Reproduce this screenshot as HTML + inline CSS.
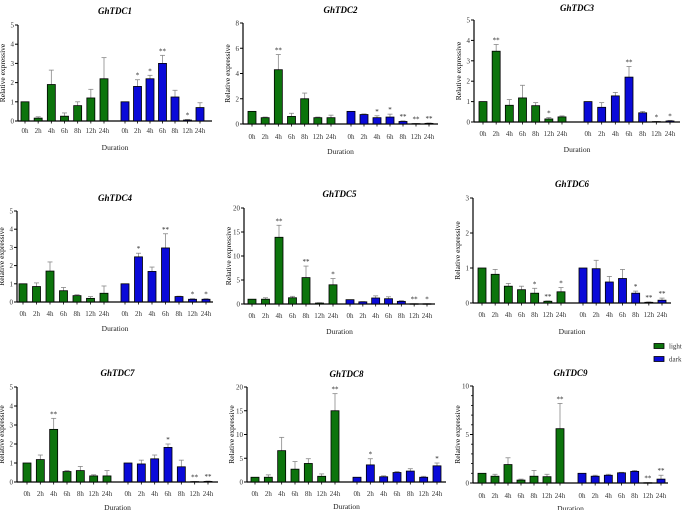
<!DOCTYPE html>
<html><head><meta charset="utf-8"><style>
body{margin:0;background:#fff;}
svg{display:block;font-family:"Liberation Serif",serif;}
</style></head><body>
<svg id="chart" width="685" height="510" viewBox="0 0 685 510"></svg>
<script>
const categories = ["0h","2h","4h","6h","8h","12h","24h"];
const genes = ["GhTDC1","GhTDC2","GhTDC3","GhTDC4","GhTDC5","GhTDC6","GhTDC7","GhTDC8","GhTDC9"];
const tdc1Light=[1,0.15,1.9,0.25,0.8,1.2,2.2], tdc1LightErr=[1,0.22,2.65,0.42,1.0,1.65,3.3];
const tdc1Dark=[1,1.8,2.2,3.0,1.25,0.05,0.7], tdc1DarkErr=[1,2.15,2.38,3.42,1.6,0.08,0.95];
const tdc2Light=[1,0.5,4.3,0.6,2.0,0.5,0.5], tdc2LightErr=[1,0.55,5.5,0.85,2.45,0.55,0.7];
const tdc2Dark=[1,0.75,0.5,0.55,0.2,0.03,0.05], tdc2DarkErr=[1,0.8,0.65,0.78,0.25,0.04,0.08];
const tdc3Light=[1,3.47,0.82,1.18,0.8,0.15,0.25], tdc3LightErr=[1,3.8,1.1,1.8,0.95,0.22,0.3];
const tdc3Dark=[1,0.72,1.28,2.2,0.45,0.02,0.05], tdc3DarkErr=[1,0.95,1.45,2.72,0.52,0.03,0.08];
const tdc4Light=[1,0.85,1.7,0.62,0.35,0.2,0.48], tdc4LightErr=[1,1.05,2.2,0.8,0.4,0.3,0.88];
const tdc4Dark=[1,2.48,1.68,2.97,0.3,0.15,0.15], tdc4DarkErr=[1,2.68,1.92,3.75,0.32,0.18,0.18];
const tdc5Light=[1,1,13.9,1.3,5.5,0.2,4], tdc5LightErr=[1,1.3,16.4,1.6,7.9,0.25,5.3];
const tdc5Dark=[0.9,0.45,1.25,1.1,0.55,0.05,0.05], tdc5DarkErr=[0.9,0.5,1.7,1.5,0.7,0.06,0.06];
const tdc6Light=[1,0.82,0.48,0.38,0.28,0.05,0.32], tdc6LightErr=[1,0.96,0.56,0.48,0.42,0.06,0.44];
const tdc6Dark=[1,0.98,0.6,0.7,0.28,0.02,0.08], tdc6DarkErr=[1,1.22,0.76,0.96,0.34,0.03,0.14];
const tdc7Light=[1,1.18,2.77,0.55,0.6,0.32,0.32], tdc7LightErr=[1,1.42,3.35,0.6,0.82,0.38,0.6];
const tdc7Dark=[1,0.95,1.22,1.82,0.8,0.02,0.03], tdc7DarkErr=[1,1.15,1.42,2.0,1.15,0.03,0.05];
const tdc8Light=[1,1,6.6,2.7,3.9,1.2,15], tdc8LightErr=[1,1.5,9.4,4.3,4.9,1.7,18.6];
const tdc8Dark=[1,3.6,1.1,2.0,2.3,1.0,3.4], tdc8DarkErr=[1,4.9,1.3,2.2,2.8,1.2,4.0];
const tdc9Light=[1,0.7,1.9,0.3,0.7,0.65,5.6], tdc9LightErr=[1,0.9,2.6,0.4,1.3,0.9,8.2];
const tdc9Dark=[1,0.7,0.8,1.05,1.2,0.03,0.4], tdc9DarkErr=[1,0.8,0.9,1.1,1.3,0.04,0.8];
const lightSig=[["","","","","","",""],["","","**","","","",""],["","**","","","","*",""],["","","","","","",""],["","","**","","**","","*"],["","","","","*","**","*"],["","","**","","","",""],["","","","","","","**"],["","","","","","","**"]];
const darkSig=[["","*","*","**","","*",""],["","","*","*","**","**","**"],["","","","**","","*","*"],["","*","","**","","*","*"],["","","","","","**","*"],["","","","","*","**","**"],["","","","*","","**","**"],["","*","","","","","*"],["","","","","","**","**"]];
const yMax=[5,8,5,5,20,3,5,20,10];
const yStep=[1,2,1,1,5,1,1,5,5];
const lightData=[tdc1Light,tdc2Light,tdc3Light,tdc4Light,tdc5Light,tdc6Light,tdc7Light,tdc8Light,tdc9Light];
const lightErr=[tdc1LightErr,tdc2LightErr,tdc3LightErr,tdc4LightErr,tdc5LightErr,tdc6LightErr,tdc7LightErr,tdc8LightErr,tdc9LightErr];
const darkData=[tdc1Dark,tdc2Dark,tdc3Dark,tdc4Dark,tdc5Dark,tdc6Dark,tdc7Dark,tdc8Dark,tdc9Dark];
const darkErr=[tdc1DarkErr,tdc2DarkErr,tdc3DarkErr,tdc4DarkErr,tdc5DarkErr,tdc6DarkErr,tdc7DarkErr,tdc8DarkErr,tdc9DarkErr];

// layout: axisX, y0, yTop, g0, g6, b0, b6, axisEnd, titleY, labelY, durY
const layout=[
[18,121,25,25,104,125,200,212,11,131,147],
[243,124,23,252,331,351,429,438,10,137,151],
[474,122,20,483,562,588,670,680,8,134,149],
[17,302,211,23,104,125,206,213,198,314,328],
[244,304,208,252,333,350,427,435,194,316,331],
[473,303,198,482,561,583,662,671,184,315,331],
[17,482,387,27,107,128,208,218,373,494,507],
[247,482,387,255,335,357,437,446,374,494,506],
[473,483,386,482,560,582,661,668,373,496,508]];

const svg=document.getElementById('chart');
const NS="http://www.w3.org/2000/svg";
function mk(tag,attrs,parent){const e=document.createElementNS(NS,tag);for(const k in attrs)e.setAttribute(k,attrs[k]);(parent||svg).appendChild(e);return e;}

for(let p=0;p<9;p++){
  const [ax,y0,yT,g0,g6,b0,b6,aEnd,tY,lY,dY]=layout[p];
  const g=mk('g',{});
  
  
  const yS=v=>y0-(v/yMax[p])*(y0-yT);
  const xL=i=>g0+i*(g6-g0)/6;
  const xD=i=>b0+i*(b6-b0)/6;
  const t=mk('text',{x:(ax+aEnd)/2,y:tY+3,'text-anchor':'middle','font-size':'9','font-weight':'bold','font-style':'italic'},g);
  t.textContent=genes[p];
  
  
  // axes
  const ya=mk('line',{x1:ax,y1:yT,x2:ax,y2:y0,stroke:'#000','stroke-width':1.2},g);
  
  
  const xa=mk('line',{x1:ax,y1:y0,x2:aEnd,y2:y0,stroke:'#000','stroke-width':1.2},g);
  
  
  for(let v=0;v<=yMax[p]+1e-9;v+=yStep[p]){
    const y=yS(v);
    mk('line',{x1:ax-3,y1:y,x2:ax,y2:y,stroke:'#000','stroke-width':1},g);
    const tl=mk('text',{x:ax-4,y:y+2.5,'text-anchor':'end','font-size':'7',fill:'#333'},g);
    tl.textContent=String(v);
    
    
  }
  if(p===8){for(let v=1;v<10;v++){if(v%5===0)continue;const y=yS(v);mk('line',{x1:ax-2,y1:y,x2:ax,y2:y,stroke:'#000','stroke-width':0.8},g);}}
  const yl=mk('text',{x:ax-13,y:(y0+yT)/2,'text-anchor':'middle','font-size':'7.5',transform:`rotate(-90 ${ax-13} ${(y0+yT)/2})`},g);
  yl.textContent='Relative expressive';
  
  
  const dl=mk('text',{x:(ax+aEnd)/2,y:dY+3,'text-anchor':'middle','font-size':'7.5',fill:'#222'},g);
  dl.textContent='Duration';
  
  
  const series=[[lightData[p],lightErr[p],lightSig[p],xL,'#0c740c','light'],[darkData[p],darkErr[p],darkSig[p],xD,'#0a0ad8','dark']];
  for(const [vals,errs,sigs,xf,col,nm] of series){
    for(let i=0;i<7;i++){
      const cx=xf(i), top=yS(vals[i]), et=yS(errs[i]);
      if(errs[i]>vals[i]){
        mk('line',{x1:cx,y1:et,x2:cx,y2:top,stroke:'#888','stroke-width':0.8},g);
        mk('line',{x1:cx-2.5,y1:et,x2:cx+2.5,y2:et,stroke:'#888','stroke-width':0.8},g);
      }
      const r=mk('rect',{x:cx-4,y:top,width:8,height:Math.max(0.5,y0-top),fill:col,stroke:'#000','stroke-width':0.8},g);
      
      
      if(sigs[i]){
        const s=mk('text',{x:cx,y:Math.min(et,top)-2,'text-anchor':'middle','font-size':'7',fill:'#222'},g);
        s.textContent=sigs[i];
        
        
      }
      const tl=mk('text',{x:cx,y:lY+2,'text-anchor':'middle','font-size':'7',fill:'#333'},g);
      tl.textContent=categories[i];
      
      
      mk('line',{x1:cx,y1:y0,x2:cx,y2:y0+2.5,stroke:'#000','stroke-width':0.8},g);
    }
  }
}
// legend
const lg=mk('g',{});


const legendItems=[['light','#0c740c',346],['dark','#0a0ad8',359]];
for(const [lab,col,y] of legendItems){
  const e=mk('g',{},lg);
  
  
  mk('rect',{x:654,y:y-2.5,width:10,height:5,fill:col,stroke:'#000','stroke-width':0.8},e);
  const t=mk('text',{x:669,y:y+2.5,'font-size':'7',fill:'#333'},e);
  t.textContent=lab;
}
</script>
</body></html>
